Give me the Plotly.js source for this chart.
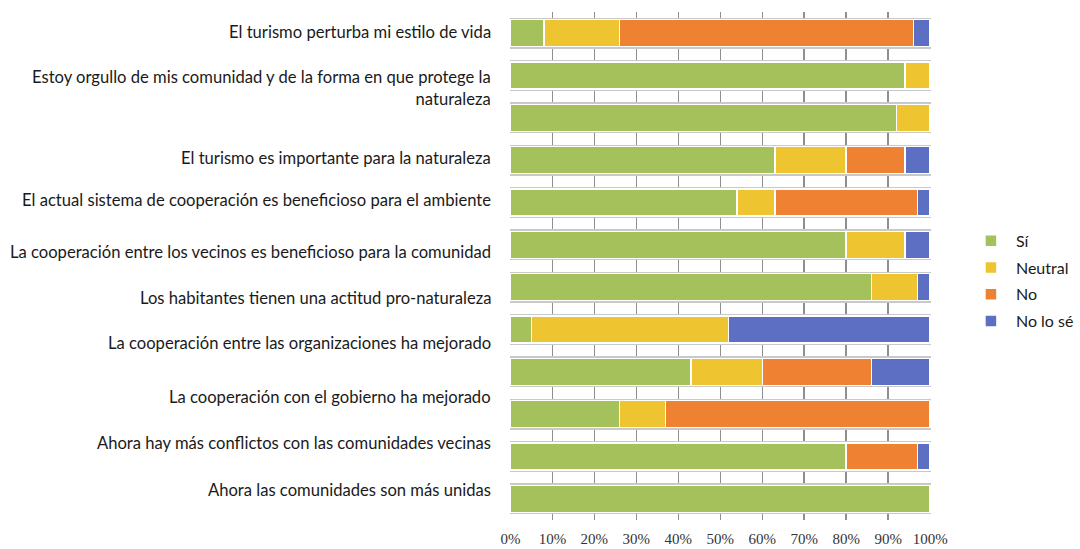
<!DOCTYPE html>
<html>
<head>
<meta charset="utf-8">
<script src="https://cdn.plot.ly/plotly-3.0.1.min.js"></script>
<style>html,body{margin:0;padding:0;background:#fff;}#chart{width:1080px;height:549px;}</style>
</head>
<body>
<div id="chart"></div>
<script>
// Row order: top to bottom (12 bars)
const rows = [0, 1, 2, 3, 4, 5, 6, 7, 8, 9, 10, 11];
const si       = [0.08, 0.94, 0.92, 0.63, 0.54, 0.80, 0.86, 0.05, 0.43, 0.26, 0.80, 1.00];
const neutral  = [0.18, 0.06, 0.08, 0.17, 0.09, 0.14, 0.11, 0.47, 0.17, 0.11, 0.00, 0.00];
const no       = [0.70, 0.00, 0.00, 0.14, 0.34, 0.00, 0.00, 0.00, 0.26, 0.63, 0.17, 0.00];
const noLoSe   = [0.04, 0.00, 0.00, 0.06, 0.03, 0.06, 0.03, 0.48, 0.14, 0.00, 0.03, 0.00];
const seriesNames = ["Sí", "Neutral", "No", "No lo sé"];

// Category labels (as printed, 10 labels for the 12 bars)
const labels = [
  "El turismo perturba mi estilo de vida",
  "Estoy orgullo de mis comunidad y de la forma en que protege la<br>naturaleza",
  "El turismo es importante para la naturaleza",
  "El actual sistema de cooperación es beneficioso para el ambiente",
  "La cooperación entre los vecinos es beneficioso para la comunidad",
  "Los habitantes tienen una actitud pro-naturaleza",
  "La cooperación entre las organizaciones ha mejorado",
  "La cooperación con el gobierno ha mejorado",
  "Ahora hay más conflictos con las comunidades vecinas",
  "Ahora las comunidades son más unidas"
];
// layout: vertical placement of each label in row units (labels are offset from bars in the original)
const labelPlacement = [-0.03, 1.30, 2.95, 3.94, 5.17, 6.26, 7.32, 8.60, 9.69, 10.79];

const colors = ["#A5C15C", "#EEC431", "#EE8232", "#5C6FC3"];
const values = [si, neutral, no, noLoSe];

const BAR_W = 0.64;
const traces = values.map((v, k) => ({
  type: "bar",
  orientation: "h",
  name: seriesNames[k],
  legendgroup: "g" + k,
  x: v,
  y: rows,
  width: BAR_W,
  marker: {color: colors[k], line: {color: "#ffffff", width: 1.5}},
  hoverinfo: "x+name"
}));

const edgeTicks = [];
rows.forEach(r => { edgeTicks.push(r - 0.345); edgeTicks.push(r + 0.345); });

const annotations = labels.map((t, i) => ({
  xref: "paper", yref: "y",
  x: -0.04, y: labelPlacement[i],
  xanchor: "right", yanchor: "middle",
  align: "right",
  text: t,
  showarrow: false,
  font: {family: "Lato, 'Open Sans', sans-serif", size: 16.6, color: "#1a1a1a"}
}));

const layout = {
  width: 1080, height: 549,
  margin: {l: 510, r: 149, t: 12, b: 29, pad: 0, autoexpand: false},
  paper_bgcolor: "#ffffff",
  plot_bgcolor: "#ffffff",
  barmode: "stack",
  showlegend: true,
  legend: {
    x: 1.083, y: 0.47, xanchor: "left", yanchor: "middle",
    font: {family: "Lato, 'Open Sans', sans-serif", size: 16, color: "#1a1a1a"},
    tracegroupgap: 3,
    traceorder: "grouped",
    itemwidth: 40
  },
  xaxis: {
    range: [-0.001, 1.002],
    tickvals: [0, 0.1, 0.2, 0.3, 0.4, 0.5, 0.6, 0.7, 0.8, 0.9, 1.0],
    tickformat: ".0%",
    showgrid: true, gridcolor: "#8f8f8f", gridwidth: 1.5,
    zeroline: false, showline: false, ticks: "",
    ticklabelstandoff: 8,
    tickfont: {family: "'Liberation Serif', 'DejaVu Serif', serif", size: 15, color: "#333333"},
    fixedrange: true
  },
  yaxis: {
    range: [11.5, -0.5],
    tickvals: edgeTicks,
    showticklabels: false,
    showgrid: true, gridcolor: "#c9c9c9", gridwidth: 1.5,
    zeroline: false, showline: false, ticks: "",
    fixedrange: true
  },
  annotations: annotations
};

Plotly.newPlot("chart", traces, layout, {displayModeBar: false, staticPlot: true});
</script>
</body>
</html>
